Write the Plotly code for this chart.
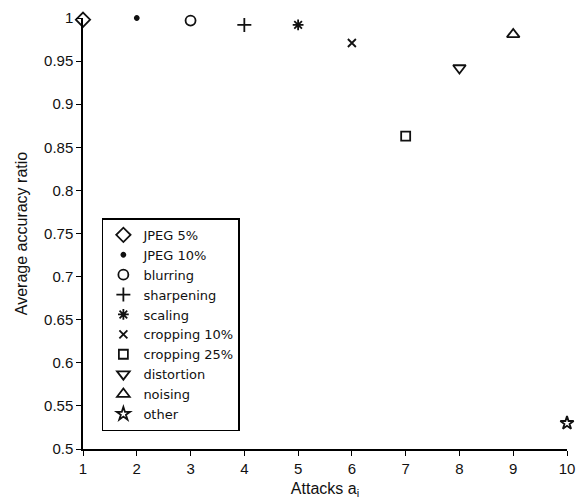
import plotly.graph_objects as go

# attack index and average accuracy ratio
attacks = [1, 2, 3, 4, 5, 6, 7, 8, 9, 10]
accuracy = [0.998, 1.0, 0.997, 0.992, 0.992, 0.971, 0.863, 0.942, 0.981, 0.53]
names = ["JPEG 5%", "JPEG 10%", "blurring", "sharpening", "scaling",
         "cropping 10%", "cropping 25%", "distortion", "noising", "other"]
symbols = ["diamond-open", "circle", "circle-open", "cross-thin-open", "asterisk-open",
           "x-thin-open", "square-open", "triangle-down-open", "triangle-up-open", "star-open"]
sizes = [11, 4, 10, 10, 9, 8, 9, 11, 11, 10]

fig = go.Figure()
for x, y, n, s, sz in zip(attacks, accuracy, names, symbols, sizes):
    fig.add_trace(go.Scatter(
        x=[x], y=[y], name=n, mode="markers",
        marker=dict(symbol=s, size=sz, color="#111",
                    line=dict(color="#111", width=1.8)),
        cliponaxis=False,
    ))

axis_font = dict(family="Liberation Sans, Arial, sans-serif", size=15, color="#111")
fig.update_layout(
    width=581, height=502,
    margin=dict(l=83, r=14, t=18, b=53),
    plot_bgcolor="white", paper_bgcolor="white",
    font=axis_font,
    showlegend=True,
    legend=dict(x=0.039, y=0.535, xanchor="left", yanchor="top",
                bordercolor="black", borderwidth=1.5, bgcolor="white",
                font=dict(family="DejaVu Sans, sans-serif", size=13), itemsizing="trace"),
    xaxis=dict(range=[1, 10], tickvals=attacks, showgrid=False, zeroline=False,
               showline=True, linecolor="black", linewidth=1.5, automargin=False,
               ticks="outside", ticklen=5, tickcolor="black",
               title=dict(text="Attacks a<sub>i</sub>", standoff=7, font=dict(size=16))),
    yaxis=dict(range=[0.5, 1], dtick=0.05, showgrid=False, zeroline=False,
               showline=True, linecolor="black", linewidth=1.5, automargin=False,
               ticks="outside", ticklen=5, tickcolor="black",
               title=dict(text="Average accuracy ratio", standoff=12, font=dict(size=16))),
)

fig.write_html("out.html", config={"displayModeBar": False},
               post_script="document.body.style.margin='0';")
